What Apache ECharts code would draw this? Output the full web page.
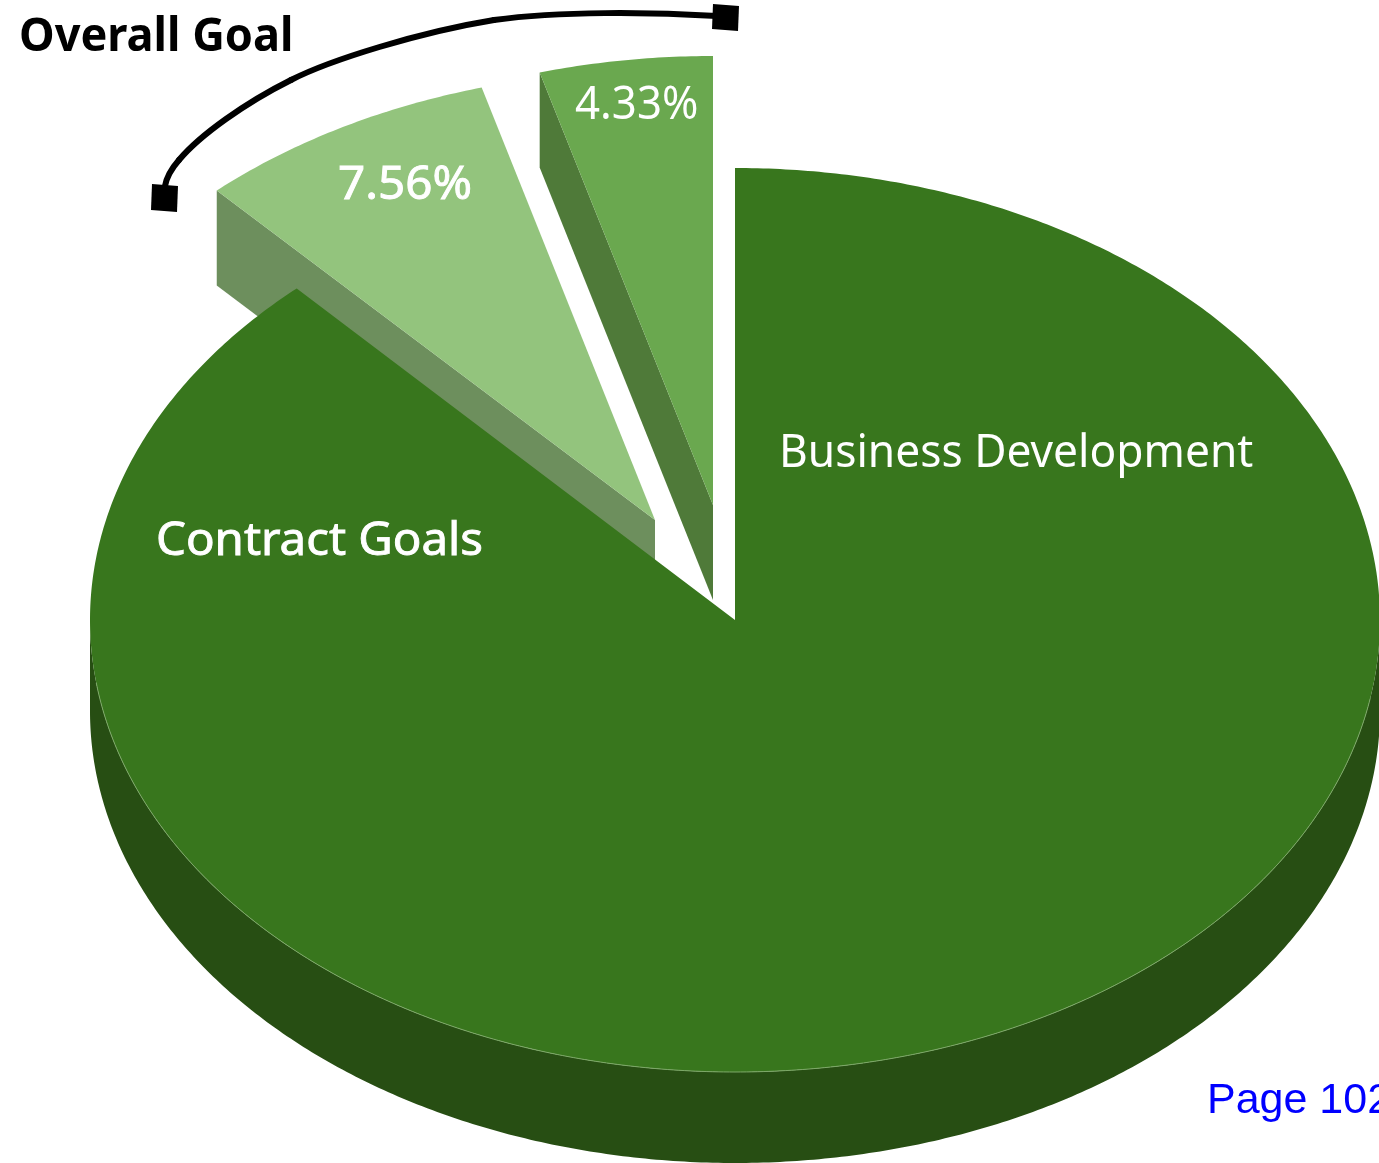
<!DOCTYPE html>
<html>
<head>
<meta charset="utf-8">
<style>
  html, body { margin: 0; padding: 0; background: #fff; overflow: hidden; }
  #chart { width: 1379px; height: 1163px; }
</style>
<script src="https://cdn.jsdelivr.net/npm/echarts@6/dist/echarts.min.js"></script>
</head>
<body>
<div id="chart"></div>
<script>
// Slices run clockwise from twelve o'clock; the first one carries two captions.
const sliceNames = ['Business Development', 'Goal share A', 'Goal share B'];
const sliceValues = [88.11, 7.56, 4.33];
const mainCaptions = ['Business Development', 'Contract Goals'];
const bracketTitle = 'Overall Goal';
const pageNote = 'Page 102';

// Appearance of each slice, in the same order as the values.
const topColors = ['#38761d', '#93c47d', '#6aa84f'];
const wallColors = ['#274e13', '#6d8f5d', '#4f7a39'];
const explodeX = [0, -80, -22];
const explodeY = [0, -100, -115];
const radiusY = [452, 449, 449];
const paintOrder = [6, 2, 4];

const CX = 735, CY = 620, RX = 645, DEPTH = 95;
const TEXT_FONT = '"Noto Sans", "DejaVu Sans", sans-serif';

function ellipsePoint(deg, ox, oy, ry) {
  const a = deg * Math.PI / 180;
  return [CX + ox + RX * Math.sin(a), CY + oy - ry * Math.cos(a)];
}

function arcPoints(from, to, ox, oy, ry) {
  const pts = [];
  const steps = Math.max(4, Math.ceil(Math.abs(to - from) * 2));
  for (let i = 0; i <= steps; i++) {
    pts.push(ellipsePoint(from + (to - from) * i / steps, ox, oy, ry));
  }
  return pts;
}

function renderSlice(params, api) {
  const i = params.dataIndex;
  const total = sliceValues.reduce((s, v) => s + v, 0);
  const before = sliceValues.slice(0, i).reduce((s, v) => s + v, 0);
  const start = before / total * 360;
  const end = (before + api.value(1)) / total * 360;
  const ox = explodeX[i], oy = explodeY[i], ry = radiusY[i];
  const apex = [CX + ox, CY + oy];
  const children = [];
  const z = paintOrder[i];

  if (i === 0) {
    // Front rim of the large slice, from the right tangent to the left tangent.
    const front = arcPoints(90, 270, ox, oy, ry);
    const lowered = front.slice().reverse().map(p => [p[0], p[1] + DEPTH - 4]);
    children.push({
      type: 'polygon', z2: z - 1,
      shape: { points: front.concat(lowered) },
      style: { fill: wallColors[i] }
    });
  } else {
    // Exploded slices show only the cut face along their left edge.
    const outer = ellipsePoint(start, ox, oy, ry);
    children.push({
      type: 'polygon', z2: z - 1,
      shape: { points: [apex, outer, [outer[0], outer[1] + DEPTH], [apex[0], apex[1] + DEPTH]] },
      style: { fill: wallColors[i] }
    });
  }

  children.push({
    type: 'polygon', z2: z,
    shape: { points: [apex].concat(arcPoints(start, end, ox, oy, ry)) },
    style: { fill: topColors[i] }
  });

  if (i === 0) {
    children.push({
      type: 'polyline', z2: z + 1,
      shape: { points: arcPoints(100, 262, ox, oy, ry) },
      style: { fill: 'none', stroke: '#7da868', lineWidth: 1 }
    });
    children.push(caption(mainCaptions[0], 779, 454, 0.963, 0, z + 2));
    children.push(caption(mainCaptions[1], 156, 542, 1.03, 0.9, z + 2));
  } else if (i === 1) {
    children.push(caption(api.value(1).toFixed(2) + '%', 338, 186, 1.035, 0.9, 20));
  } else {
    children.push(caption(api.value(1).toFixed(2) + '%', 575, 106, 0.953, 0, 20));
  }
  return { type: 'group', children };
}

// White slice caption; a hairline outline thickens the heavier ones.
function caption(text, x, y, stretch, outline, z2) {
  return {
    type: 'text', z2, x, y, scaleX: stretch,
    style: {
      text, fill: '#ffffff', font: '46px ' + TEXT_FONT,
      stroke: outline ? '#ffffff' : 'transparent', lineWidth: outline,
      textAlign: 'left', textVerticalAlign: 'middle'
    }
  };
}

// The curved bracket tying the two exploded slices together.
const bracketCurves = [
  [165, 186, 167, 175, 172, 168, 179, 160],
  [179, 160, 200, 135, 245, 103, 291, 80],
  [291, 80, 330, 60, 420, 32, 494, 20],
  [494, 20, 560, 11, 650, 12, 717, 16]
];
const bracketEnds = [
  [[152, 184], [178, 186], [177, 212], [151, 210]],
  [[713, 4], [739, 6], [738, 31], [712, 29]]
];

const chart = echarts.init(document.getElementById('chart'), null, { renderer: 'canvas' });
chart.setOption({
  animation: false,
  backgroundColor: '#ffffff',
  series: [{
    type: 'custom',
    coordinateSystem: 'none',
    renderItem: renderSlice,
    data: sliceNames.map((n, i) => [n, sliceValues[i]])
  }],
  graphic: {
    elements: [
      ...bracketCurves.map(c => ({
        type: 'bezierCurve',
        z: 10,
        shape: { x1: c[0], y1: c[1], cpx1: c[2], cpy1: c[3], cpx2: c[4], cpy2: c[5], x2: c[6], y2: c[7] },
        style: { fill: 'none', stroke: '#000000', lineWidth: 6, lineCap: 'round' }
      })),
      ...bracketEnds.map(p => ({
        type: 'polygon',
        z: 10,
        shape: { points: p },
        style: { fill: '#000000' }
      })),
      {
        type: 'text', z: 10, x: 19, y: 38, scaleX: 0.98,
        style: {
          text: bracketTitle, fill: '#000000',
          font: 'bold 46px ' + TEXT_FONT,
          textAlign: 'left', textVerticalAlign: 'middle'
        }
      },
      {
        type: 'text', z: 10, x: 1207, y: 1101,
        style: {
          text: pageNote, fill: '#0000ff',
          font: '43px "Liberation Sans", Arial, sans-serif',
          textAlign: 'left', textVerticalAlign: 'middle'
        }
      }
    ]
  }
});
</script>
</body>
</html>
